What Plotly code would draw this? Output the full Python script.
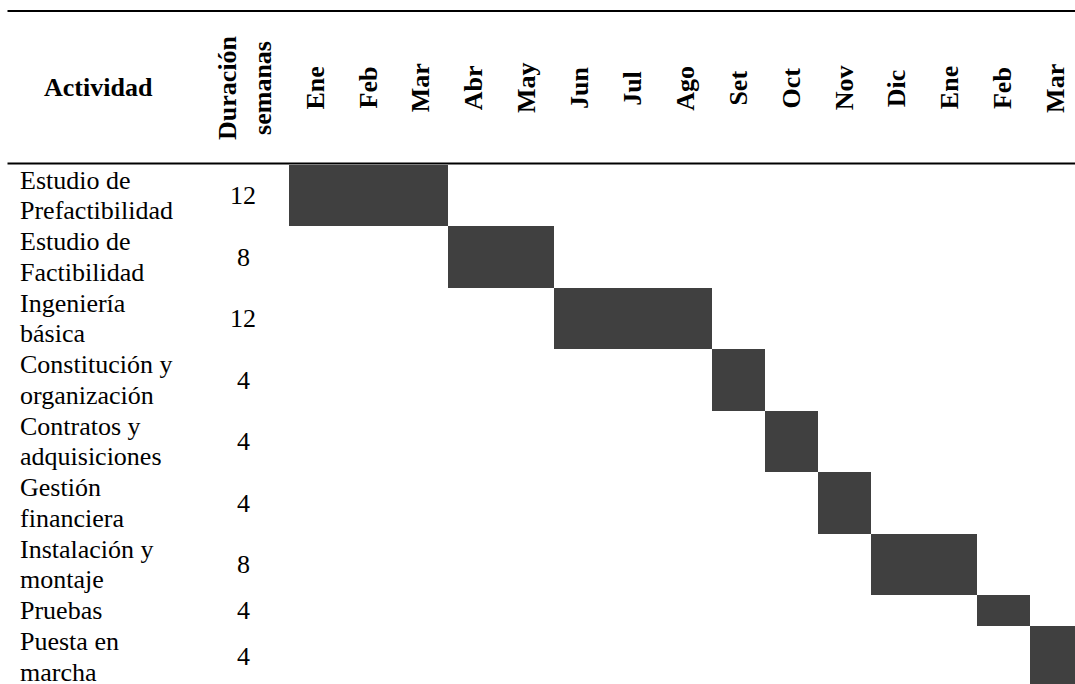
import plotly.graph_objects as go

# ---- data ----
activities = [
    "Estudio de\nPrefactibilidad",
    "Estudio de\nFactibilidad",
    "Ingeniería\nbásica",
    "Constitución y\norganización",
    "Contratos y\nadquisiciones",
    "Gestión\nfinanciera",
    "Instalación y\nmontaje",
    "Pruebas",
    "Puesta en\nmarcha",
]
duration_weeks = [12, 8, 12, 4, 4, 4, 8, 4, 4]
start_month = [0, 3, 5, 8, 9, 10, 11, 13, 14]
months = ["Ene", "Feb", "Mar", "Abr", "May", "Jun", "Jul", "Ago",
          "Set", "Oct", "Nov", "Dic", "Ene", "Feb", "Mar"]

# ---- layout geometry (axis units: x = months, y = text lines) ----
W, H = 1075, 684
COL_X0, COL_W = 289.2, 52.88      # pixel where month 0 begins, month width
BODY_Y0, LINE_H = 164.8, 30.75    # pixel where body begins, line height

x_range = [-COL_X0 / COL_W, (W - COL_X0) / COL_W]
y_range = [(H - BODY_Y0) / LINE_H, -BODY_Y0 / LINE_H]

def px_x(p):
    return (p - COL_X0) / COL_W

FONT = "Liberation Serif, Times New Roman, serif"
FS = 26

# rows
n_lines = [len(a.split("\n")) for a in activities]
row_top = []
acc = 0
for n in n_lines:
    row_top.append(acc)
    acc += n
row_center = [t + n / 2 for t, n in zip(row_top, n_lines)]
dur_months = [w / 4 for w in duration_weeks]

fig = go.Figure()
fig.add_trace(go.Bar(
    orientation="h",
    y=row_center,
    x=dur_months,
    base=start_month,
    width=n_lines,
    marker=dict(color="#404040", line=dict(width=0)),
    hoverinfo="skip",
    showlegend=False,
))

ann = []
HEAD_Y = -2.5
# header
ann.append(dict(x=px_x(98.5), y=HEAD_Y, text="<b>Actividad</b>", showarrow=False,
                xanchor="center", yanchor="middle"))
ann.append(dict(x=px_x(228), y=HEAD_Y, text="<b>Duración</b>", showarrow=False,
                textangle=-90, xanchor="center", yanchor="middle"))
ann.append(dict(x=px_x(263), y=HEAD_Y, text="<b>semanas</b>", showarrow=False,
                textangle=-90, xanchor="center", yanchor="middle"))
for i, m in enumerate(months):
    ann.append(dict(x=i + 0.5, y=HEAD_Y, text=f"<b>{m}</b>", showarrow=False,
                    textangle=-90, xanchor="center", yanchor="middle"))

# body
for a, t, n, c, d in zip(activities, row_top, n_lines, row_center, duration_weeks):
    for j, line in enumerate(a.split("\n")):
        ann.append(dict(x=px_x(18), y=t + j + 0.5, text=line, showarrow=False,
                        xanchor="left", yanchor="middle"))
    ann.append(dict(x=px_x(243), y=c, text=str(d), showarrow=False,
                    xanchor="center", yanchor="middle"))

for a in ann:
    a["font"] = dict(family=FONT, size=FS, color="black")
    a["xref"] = "x"
    a["yref"] = "y"

shapes = [
    dict(type="line", xref="x", yref="y", x0=px_x(7.5), x1=x_range[1] + 1,
         y0=-5.0, y1=-5.0, line=dict(color="black", width=2)),
    dict(type="line", xref="x", yref="y", x0=px_x(7.5), x1=x_range[1] + 1,
         y0=-0.04, y1=-0.04, line=dict(color="black", width=2)),
]

fig.update_layout(
    width=W, height=H,
    margin=dict(l=0, r=0, t=0, b=0),
    paper_bgcolor="white", plot_bgcolor="white",
    xaxis=dict(range=x_range, visible=False, fixedrange=True),
    yaxis=dict(range=y_range, visible=False, fixedrange=True),
    annotations=ann,
    shapes=shapes,
    showlegend=False,
    bargap=0,
)

fig.write_html("out.html")
